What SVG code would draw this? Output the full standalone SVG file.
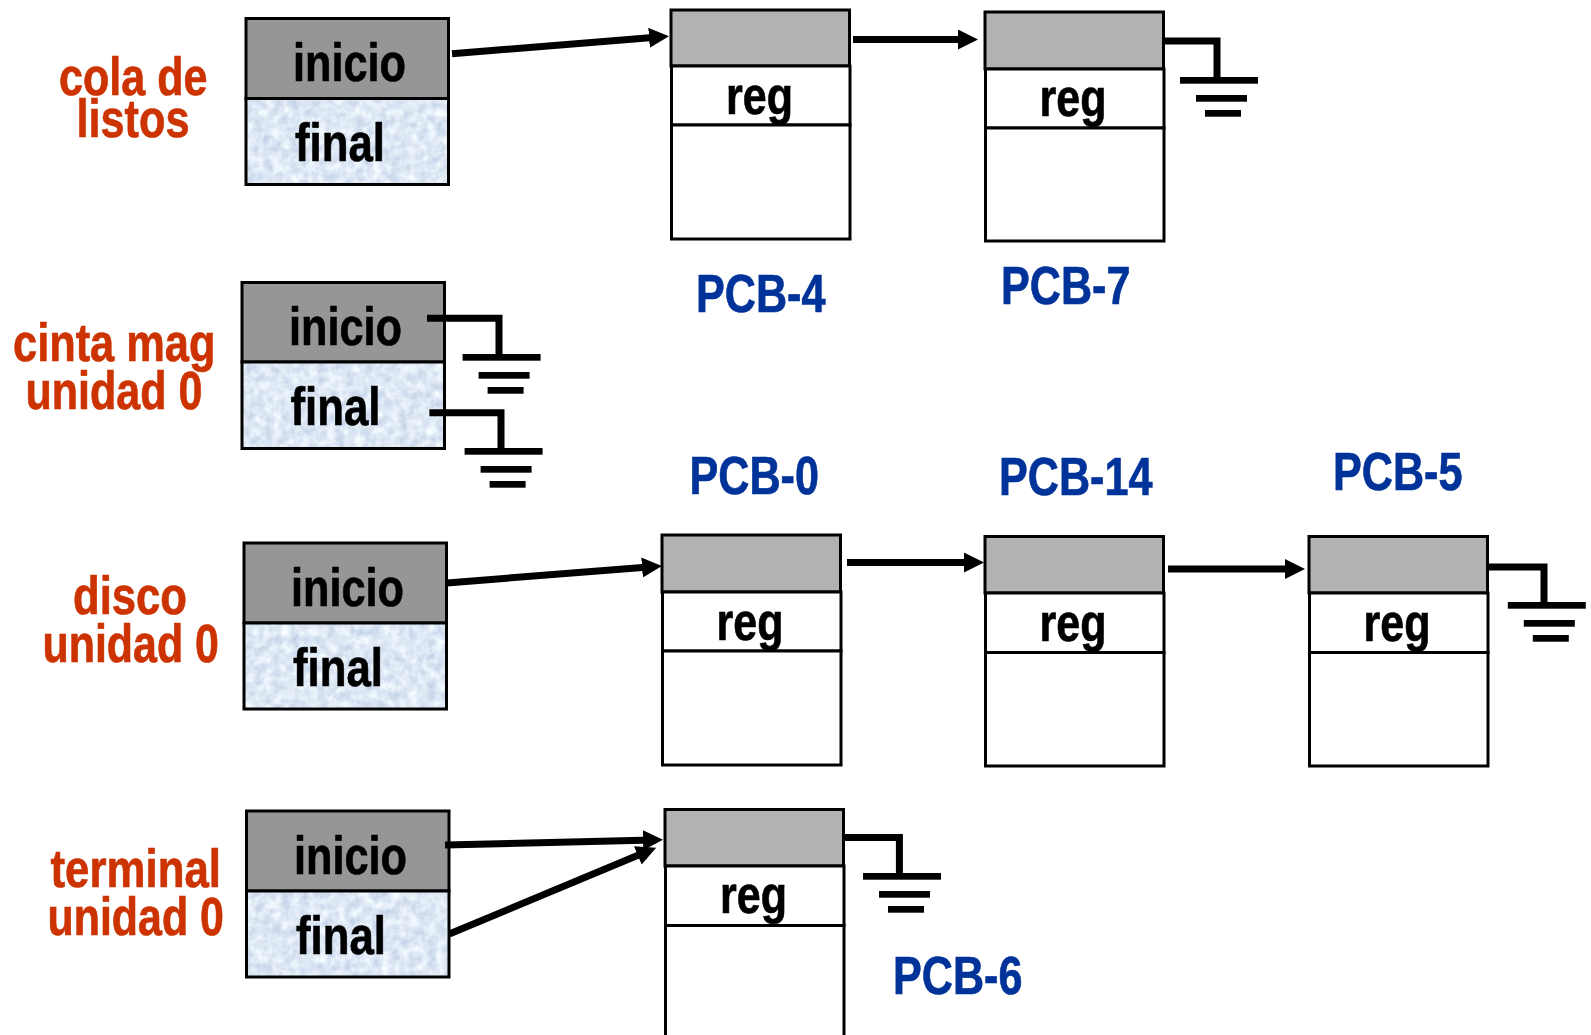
<svg xmlns="http://www.w3.org/2000/svg" width="1591" height="1035" viewBox="0 0 1591 1035">
<style>
text{font-family:"Liberation Sans",Arial,sans-serif;font-weight:700;font-size:54px;stroke-width:.7px;transform:translateY(1px);}
.k{fill:#000;stroke:#000}.o{fill:#cc3300;stroke:#cc3300}.b{fill:#003399;stroke:#003399}
.box{stroke:#000;stroke-width:3;}
.top{fill:#969696}.low{fill:none}.head{fill:#b2b2b2}.w{fill:#fff}
.noise{filter:url(#tex)}
.wire{fill:none;stroke:#000;stroke-width:7}
.arrow{fill:none;stroke:#000;stroke-width:7;marker-end:url(#ah)}
</style>
<defs>
<marker id="ah" markerUnits="userSpaceOnUse" markerWidth="21" markerHeight="21" refX="10" refY="10" orient="auto"><path d="M0 0L20 10L0 20z" fill="#000"/></marker>
<filter id="tex" x="0" y="0" width="1" height="1" color-interpolation-filters="sRGB">
<feTurbulence type="fractalNoise" baseFrequency="0.11" numOctaves="3" seed="4"/>
<feColorMatrix type="matrix" values="0.3 0 0 0 0.72  0.25 0 0 0 0.785  0.15 0 0 0 0.885  0 0 0 0 1"/>
</filter>
<g id="gnd"><rect x="0" y="0" width="78" height="6.7"/><rect x="16" y="18" width="51" height="6.7"/><rect x="25" y="33" width="36" height="6.7"/></g>
</defs>
<rect width="1591" height="1035" fill="#fff"/>

<g id="q-listos">
<rect class="box top" x="246" y="18.5" width="202.5" height="80"/><rect class="noise" x="246" y="98.5" width="202.5" height="86"/><rect class="box low" x="246" y="98.5" width="202.5" height="86"/>
<text class="k" x="293" y="80.3" textLength="113" lengthAdjust="spacingAndGlyphs">inicio</text>
<text class="k" x="295" y="160.3" textLength="90" lengthAdjust="spacingAndGlyphs">final</text>
<text class="o" x="59" y="94.3" textLength="148.5" lengthAdjust="spacingAndGlyphs">cola de</text>
<text class="o" x="76.5" y="135.7" textLength="113" lengthAdjust="spacingAndGlyphs">listos</text>
</g>
<g id="q-cinta">
<rect class="box top" x="242" y="282.5" width="202.5" height="79.5"/><rect class="noise" x="242" y="362" width="202.5" height="86.5"/><rect class="box low" x="242" y="362" width="202.5" height="86.5"/>
<text class="k" x="289" y="344" textLength="113" lengthAdjust="spacingAndGlyphs">inicio</text>
<text class="k" x="290.5" y="424" textLength="90" lengthAdjust="spacingAndGlyphs">final</text>
<text class="o" x="13" y="360" textLength="202.5" lengthAdjust="spacingAndGlyphs">cinta mag</text>
<text class="o" x="25.5" y="408" textLength="177" lengthAdjust="spacingAndGlyphs">unidad 0</text>
</g>
<g id="q-disco">
<rect class="box top" x="244" y="543" width="202.5" height="80"/><rect class="noise" x="244" y="623" width="202.5" height="86"/><rect class="box low" x="244" y="623" width="202.5" height="86"/>
<text class="k" x="291" y="605.4" textLength="113" lengthAdjust="spacingAndGlyphs">inicio</text>
<text class="k" x="293" y="685.3" textLength="90" lengthAdjust="spacingAndGlyphs">final</text>
<text class="o" x="73" y="613" textLength="114" lengthAdjust="spacingAndGlyphs">disco</text>
<text class="o" x="42.5" y="661" textLength="176.5" lengthAdjust="spacingAndGlyphs">unidad 0</text>
</g>
<g id="q-terminal">
<rect class="box top" x="246.5" y="811" width="202.5" height="80"/><rect class="noise" x="246.5" y="891" width="202.5" height="86"/><rect class="box low" x="246.5" y="891" width="202.5" height="86"/>
<text class="k" x="294" y="873" textLength="113" lengthAdjust="spacingAndGlyphs">inicio</text>
<text class="k" x="296" y="952.8" textLength="90" lengthAdjust="spacingAndGlyphs">final</text>
<text class="o" x="50.5" y="886.2" textLength="170.5" lengthAdjust="spacingAndGlyphs">terminal</text>
<text class="o" x="47.5" y="934" textLength="176.5" lengthAdjust="spacingAndGlyphs">unidad 0</text>
</g>

<g id="pcb-4">
<rect class="box head" x="671" y="10" width="178.5" height="56"/><rect class="box w" x="671.5" y="66" width="178.5" height="59"/><rect class="box w" x="671.5" y="125" width="178.5" height="114"/>
<text class="k" x="726" y="113.3" textLength="67" lengthAdjust="spacingAndGlyphs">reg</text>
<text class="b" x="696" y="310.7" textLength="129.5" lengthAdjust="spacingAndGlyphs">PCB-4</text>
</g>
<g id="pcb-7">
<rect class="box head" x="985" y="12" width="178.5" height="57"/><rect class="box w" x="985.5" y="69" width="178.5" height="59"/><rect class="box w" x="985.5" y="128" width="178.5" height="113"/>
<text class="k" x="1039.5" y="115" textLength="67" lengthAdjust="spacingAndGlyphs">reg</text>
<text class="b" x="1001" y="303" textLength="129.5" lengthAdjust="spacingAndGlyphs">PCB-7</text>
</g>
<g id="pcb-0">
<rect class="box head" x="662" y="535" width="178.5" height="57"/><rect class="box w" x="662.5" y="592" width="178.5" height="59"/><rect class="box w" x="662.5" y="651" width="178.5" height="114"/>
<text class="k" x="716.5" y="638.9" textLength="67" lengthAdjust="spacingAndGlyphs">reg</text>
<text class="b" x="689.5" y="493.3" textLength="129.5" lengthAdjust="spacingAndGlyphs">PCB-0</text>
</g>
<g id="pcb-14">
<rect class="box head" x="985" y="536.5" width="178.5" height="56.5"/><rect class="box w" x="985.5" y="593" width="178.5" height="59.5"/><rect class="box w" x="985.5" y="652.5" width="178.5" height="113.5"/>
<text class="k" x="1039.5" y="640" textLength="67" lengthAdjust="spacingAndGlyphs">reg</text>
<text class="b" x="999" y="494" textLength="153.5" lengthAdjust="spacingAndGlyphs">PCB-14</text>
</g>
<g id="pcb-5">
<rect class="box head" x="1309" y="536.5" width="178.5" height="56.5"/><rect class="box w" x="1309.5" y="593" width="178.5" height="59.5"/><rect class="box w" x="1309.5" y="652.5" width="178.5" height="113.5"/>
<text class="k" x="1363.5" y="640" textLength="67" lengthAdjust="spacingAndGlyphs">reg</text>
<text class="b" x="1333" y="489.3" textLength="129.5" lengthAdjust="spacingAndGlyphs">PCB-5</text>
</g>
<g id="pcb-6">
<rect class="box head" x="665" y="809.5" width="178.5" height="56.5"/><rect class="box w" x="665.5" y="866" width="178.5" height="59.5"/><rect class="box w" x="665.5" y="925.5" width="178.5" height="130"/>
<text class="k" x="720" y="912.2" textLength="67" lengthAdjust="spacingAndGlyphs">reg</text>
<text class="b" x="893" y="992.7" textLength="129.5" lengthAdjust="spacingAndGlyphs">PCB-6</text>
</g>

<g id="connectors">
<path class="arrow" d="M452 53.7L659 37"/>
<path class="arrow" d="M853 39.5L968 39.5"/>
<path class="arrow" d="M447 582.9L652 566.7"/>
<path class="arrow" d="M847 562.4L974 562.4"/>
<path class="arrow" d="M1168 569L1295 569"/>
<path class="arrow" d="M445 845L653 840"/>
<path class="arrow" d="M449.3 934L647 851.5"/>
<path class="wire" d="M1164 41H1217V80"/>
<path class="wire" d="M427 318.3H499V356"/>
<path class="wire" d="M429.4 412.7H501V450"/>
<path class="wire" d="M1488 566.9H1544V604"/>
<path class="wire" d="M844 837.4H899.4V875"/>
<use href="#gnd" x="1180" y="77"/>
<use href="#gnd" x="462.6" y="354"/>
<use href="#gnd" x="464.6" y="448"/>
<use href="#gnd" x="1507.8" y="602"/>
<use href="#gnd" x="863" y="873"/>
</g>
</svg>
